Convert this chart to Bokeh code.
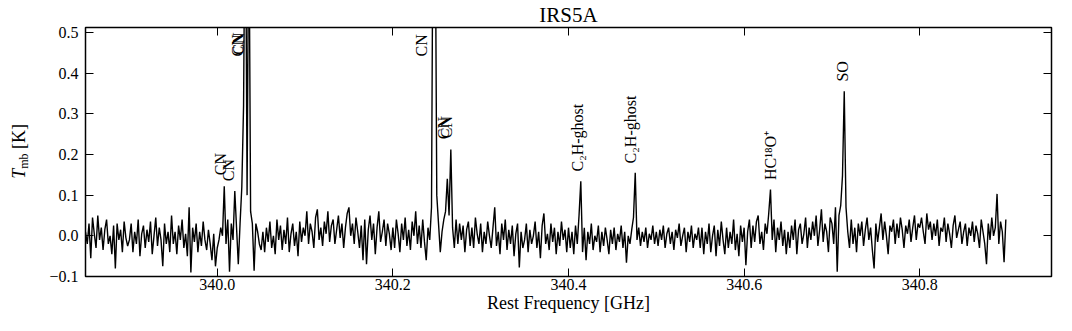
import numpy as np
from math import pi
from bokeh.plotting import figure
from bokeh.layouts import row
from bokeh.models import (ColumnDataSource, Range1d, FixedTicker, LinearAxis,
                          CustomJSTickFormatter, Title, Div)
from bokeh.core.properties import value
from bokeh.embed import file_html
from bokeh.resources import INLINE

# ---------------- data ----------------
title_text = "IRS5A"
x_label = "Rest Frequency [GHz]"
y_label_main = "T"
y_label_sub = "mb"
y_label_unit = "[K]"

freq_start = 339.85      # GHz, first channel
channel_width = 0.002    # GHz per channel

# main-beam temperature per channel [K]
tmb = [
    # 339.850 - 339.898
    0.010, -0.020, 0.030, -0.055, 0.045, 0.005, -0.030, 0.050, -0.010, 0.020, -0.035, 0.015, 0.040,
    -0.020, 0.000, -0.045, 0.025, -0.080, 0.030, -0.010, 0.015, -0.040, 0.035, -0.005, -0.025,
    # 339.900 - 339.948
    -0.010, 0.030, -0.040, 0.010, -0.020, 0.040, -0.050, 0.005, 0.025, -0.030, 0.015, -0.015, 0.035,
    -0.045, 0.000, 0.045, -0.025, 0.020, -0.010, -0.075, 0.030, -0.020, 0.010, -0.040, 0.050,
    # 339.950 - 339.998
    -0.020, 0.010, -0.045, 0.025, -0.010, 0.040, -0.030, 0.005, -0.050, 0.070, -0.090, 0.020, -0.015,
    0.030, -0.040, 0.010, -0.025, 0.035, -0.010, -0.035, 0.015, -0.020, -0.060, 0.005, -0.075,
    # 340.000 - 340.048
    -0.030, -0.010, 0.020, 0.000, 0.122, -0.020, 0.040, -0.088, 0.030, -0.010, 0.110, 0.020, -0.070,
    0.030, 0.120, 0.320, 0.950, 0.100, 0.850, 0.060, 0.030, -0.086, 0.030, 0.010, -0.020,
    # 340.050 - 340.098
    -0.035, 0.010, -0.040, 0.020, -0.015, 0.035, -0.030, 0.000, -0.045, 0.040, -0.010, 0.025, -0.035,
    0.015, -0.020, 0.045, -0.040, 0.005, 0.030, -0.025, 0.010, -0.050, 0.035, -0.015, 0.020,
    # 340.100 - 340.148
    0.000, 0.060, -0.020, 0.030, 0.010, -0.030, 0.045, 0.065, -0.010, 0.020, -0.025, 0.035, 0.005,
    0.060, -0.015, 0.025, 0.040, -0.020, 0.015, 0.050, -0.005, 0.030, -0.030, 0.020, 0.055,
    # 340.150 - 340.198
    0.070, 0.000, 0.030, -0.020, 0.045, 0.010, -0.030, 0.025, -0.060, 0.040, -0.070, 0.015, 0.050,
    -0.010, 0.030, -0.045, 0.020, 0.060, -0.015, 0.010, 0.040, -0.025, 0.030, 0.005, -0.035,
    # 340.200 - 340.248
    0.020, -0.030, 0.040, 0.005, -0.040, 0.030, -0.010, 0.045, -0.025, 0.015, -0.035, 0.035, 0.000,
    0.060, -0.020, 0.025, -0.030, 0.040, -0.015, -0.060, 0.020, -0.010, 0.070, 0.950, 0.900,
    # 340.250 - 340.298
    0.100, 0.030, -0.040, 0.010, 0.040, 0.060, 0.140, 0.050, 0.212, 0.020, -0.030, 0.040, -0.020,
    0.030, -0.010, 0.025, -0.040, 0.015, 0.035, -0.025, 0.020, -0.030, 0.045, 0.005, -0.020,
    # 340.300 - 340.348
    0.030, -0.040, 0.010, -0.020, 0.035, 0.000, -0.030, 0.020, 0.070, -0.025, 0.010, -0.045, 0.030,
    -0.010, 0.040, -0.035, 0.015, -0.020, 0.025, -0.050, 0.005, 0.030, -0.078, 0.010, -0.030,
    # 340.350 - 340.398
    -0.010, 0.030, -0.040, 0.015, -0.020, 0.000, 0.035, -0.030, 0.010, -0.055, 0.025, 0.055, -0.020,
    0.005, -0.035, 0.030, -0.015, 0.020, -0.045, 0.010, -0.025, 0.035, -0.010, 0.015, -0.040,
    # 340.400 - 340.448
    0.020, -0.030, 0.010, -0.045, 0.025, -0.020, 0.050, 0.134, -0.040, 0.020, -0.060, 0.010, -0.020,
    0.030, -0.035, 0.000, -0.015, 0.025, -0.040, 0.010, -0.025, 0.020, -0.010, -0.045, 0.015,
    # 340.450 - 340.498
    -0.020, 0.020, -0.035, 0.005, -0.015, 0.025, -0.030, 0.010, -0.066, 0.000, -0.020, 0.015, 0.045,
    0.155, -0.010, 0.020, -0.025, 0.010, -0.015, 0.020, -0.030, 0.005, -0.010, 0.025, -0.020,
    # 340.500 - 340.548
    0.010, -0.025, 0.015, -0.010, 0.025, -0.030, 0.005, 0.020, -0.020, 0.010, -0.035, 0.015, -0.005,
    0.030, -0.025, 0.000, 0.020, -0.040, 0.010, -0.015, 0.025, -0.030, 0.005, -0.010, 0.020,
    # 340.550 - 340.598
    -0.030, 0.020, -0.045, 0.010, -0.020, 0.030, -0.040, 0.000, 0.025, -0.050, 0.015, -0.025, 0.035,
    -0.010, -0.045, 0.020, -0.030, 0.010, -0.020, 0.040, -0.035, 0.005, -0.050, 0.025, -0.015,
    # 340.600 - 340.648
    0.020, -0.072, 0.010, 0.040, -0.030, 0.025, -0.015, 0.035, 0.050, -0.020, 0.010, -0.035, 0.030,
    0.005, 0.055, 0.114, -0.010, 0.040, -0.040, 0.020, -0.010, 0.035, -0.025, 0.015, -0.045,
    # 340.650 - 340.698
    0.010, -0.030, 0.025, -0.010, 0.040, -0.045, 0.015, 0.030, -0.020, 0.005, 0.045, -0.030, 0.020,
    -0.010, 0.035, 0.000, 0.050, -0.025, 0.015, 0.065, -0.015, 0.030, 0.010, -0.040, 0.045,
    # 340.700 - 340.748
    0.030, -0.020, 0.070, -0.088, 0.050, 0.075, 0.148, 0.355, 0.070, 0.010, -0.030, 0.040, -0.020,
    0.020, -0.040, 0.030, 0.000, 0.035, -0.025, 0.015, 0.045, -0.010, 0.020, -0.035, -0.080,
    # 340.750 - 340.798
    0.030, -0.015, 0.020, 0.055, -0.010, 0.035, 0.000, -0.045, 0.025, 0.010, 0.040, -0.020, 0.030,
    -0.005, 0.045, 0.015, -0.030, 0.025, 0.005, 0.040, -0.015, 0.020, 0.050, -0.010, 0.030,
    # 340.800 - 340.848
    0.020, 0.045, 0.010, -0.020, 0.055, 0.015, 0.035, -0.010, 0.030, 0.000, 0.040, -0.025, 0.020,
    0.010, 0.045, -0.015, 0.030, 0.005, -0.030, 0.025, 0.050, -0.005, 0.015, 0.035, -0.020,
    # 340.850 - 340.898
    0.010, 0.030, -0.025, 0.020, 0.000, 0.035, -0.015, 0.025, 0.005, -0.030, 0.040, 0.010, -0.020,
    -0.070, 0.030, -0.010, 0.045, 0.000, 0.020, 0.103, -0.020, 0.035, 0.010, -0.065, 0.040,
]

# line identifications (label frequency [GHz], label height [K], name)
line_freq = [340.0042, 340.0133, 340.0226, 340.0242, 340.2321, 340.2572, 340.2606,
             340.4097, 340.4703, 340.6299, 340.7116]
line_label_y = [0.149, 0.134, 0.441, 0.445, 0.441, 0.2375, 0.240,
                0.158, 0.178, 0.137, 0.379]
line_name = ["CN", "CN", "CN", "CN", "CN", "CN", "CN",
             "C\u2082H-ghost", "C\u2082H-ghost", "HC\u00b9\u2078O\u207a", "SO"]

x_ticks = [340.0, 340.2, 340.4, 340.6, 340.8]
y_ticks = [-0.1, 0.0, 0.1, 0.2, 0.3, 0.4, 0.5]
x_limits = (339.85, 340.95)
y_limits = (-0.1, 0.512)

freq = freq_start + channel_width * np.arange(len(tmb))

# ---------------- figure ----------------
FONT = "Liberation Serif"
LABEL_COL = 30   # width of the column holding the y-axis label

p = figure(width=1056 - LABEL_COL, height=315, output_backend="svg", toolbar_location=None,
           x_axis_type=None, y_axis_type=None,
           x_range=Range1d(*x_limits), y_range=Range1d(*y_limits),
           min_border_left=85 - LABEL_COL, min_border_right=5, min_border_top=25,
           min_border_bottom=38)
p.title = Title(text=title_text, align="center", text_font=FONT, text_font_size="21px",
                text_font_style="normal", text_color="black", standoff=1)
p.background_fill_color = "white"
p.border_fill_color = "white"
p.outline_line_color = "black"
p.outline_line_width = 1.5
p.outline_line_alpha = 1.0
p.xgrid.visible = False
p.ygrid.visible = False

fmt_code = "return tick.toFixed(1).replace('-', '\\u2212');"


def make_axis(ticks, labelled, standoff=5):
    ax = LinearAxis(ticker=FixedTicker(ticks=ticks))
    ax.major_tick_in = 8
    ax.major_tick_out = 0
    ax.minor_tick_line_color = None
    ax.axis_line_color = None
    ax.major_tick_line_color = "black"
    ax.major_tick_line_width = 1
    if labelled:
        ax.formatter = CustomJSTickFormatter(code=fmt_code)
        ax.major_label_text_font = FONT
        ax.major_label_text_font_size = "16px"
        ax.major_label_text_color = "black"
        ax.major_label_standoff = standoff
    else:
        ax.formatter = CustomJSTickFormatter(code="return '';")
        ax.major_label_standoff = 0
        ax.major_label_text_font_size = "1px"
    return ax


xaxis = make_axis(x_ticks, True, 2)
xaxis.axis_label = x_label
xaxis.axis_label_text_font = FONT
xaxis.axis_label_text_font_size = "18px"
xaxis.axis_label_text_font_style = "normal"
xaxis.axis_label_text_color = "black"
xaxis.axis_label_standoff = 0
p.add_layout(xaxis, "below")
p.add_layout(make_axis(y_ticks, True, 7), "left")
p.add_layout(make_axis(x_ticks, False), "above")
p.add_layout(make_axis(y_ticks, False), "right")

src = ColumnDataSource(data=dict(freq=freq, tmb=tmb))
p.line("freq", "tmb", source=src, line_color="black", line_width=1.4)

lab = ColumnDataSource(data=dict(x=line_freq, y=line_label_y, name=line_name))
p.text("x", "y", text="name", source=lab, angle=pi / 2,
       text_align="left", text_baseline="middle",
       text_font=value(FONT), text_font_size=value("16px"), text_color="black")

# y-axis label  T_mb [K], rotated, in a narrow column left of the plot
label_html = (
    '<div style="height:302px;width:%dpx;display:flex;align-items:center;'
    'justify-content:flex-end;font-family:\'Liberation Serif\',serif;font-size:18px;'
    'color:#000;line-height:1;">'
    '<span style="writing-mode:vertical-rl;transform:rotate(180deg);white-space:nowrap;'
    'margin-right:2px;">'
    '<i>%s</i><sub style="font-size:12px;line-height:0;">%s</sub>&nbsp;%s</span></div>'
    % (LABEL_COL, y_label_main, y_label_sub, y_label_unit)
)
ylab = Div(text=label_html, width=LABEL_COL, height=315, margin=(0, 0, 0, 0))

layout = row(ylab, p, spacing=0)

open("out.html", "w").write(file_html(layout, INLINE))
